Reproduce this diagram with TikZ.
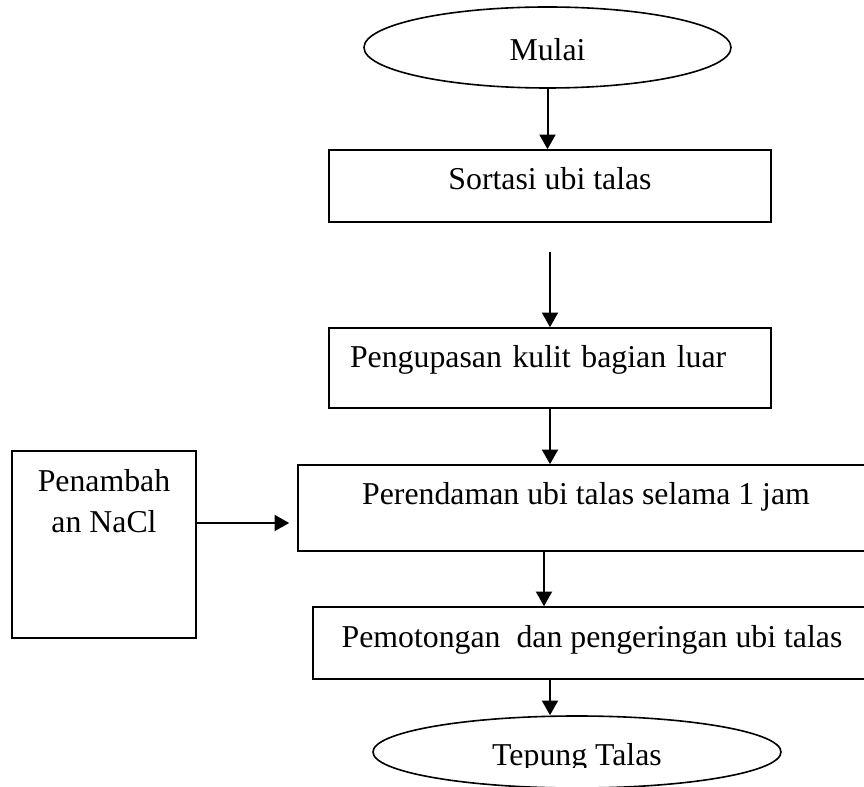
\documentclass[tikz,border=0pt]{standalone}
\usepackage{fontspec}
\setmainfont{Liberation Serif}
\usetikzlibrary{arrows.meta, shapes.geometric}

\begin{document}
\begin{tikzpicture}[x=0.75pt, y=-0.75pt,
  font=\fontsize{23.85pt}{31.5pt}\selectfont,
  terminal/.style={draw, ellipse, line width=1.2pt, inner sep=0pt, text height=20.25pt, text depth=0pt},
  proses/.style={draw, rectangle, line width=1.2pt, inner sep=0pt, text height=30pt, text depth=#1},
  panah/.style={-{Triangle[length=11pt, width=12pt]}, line width=1.5pt}]
\path [use as bounding box, clip] (0, 0) rectangle (864, 787);

\node [terminal, minimum width=275.25pt, minimum height=60.75pt] (mulai) at (547.5, 47.5) {Mulai};
\node [proses=24pt, minimum width=331.5pt] (sortasi) at (550, 186) {Sortasi ubi talas};
\node [proses=30pt, inner xsep=15.75pt, text width=300pt, align=left] (kupas) at (550, 368) {Pengupasan kulit bagian luar};
\node [proses=34.5pt, minimum width=432pt] (rendam) at (586, 508) {Perendaman ubi talas selama 1 jam};
\node [proses=24pt, minimum width=418.5pt] (potong) at (592, 643) {Pemotongan\ \ dan pengeringan ubi talas};
\node [proses=78.75pt, text height=61.5pt, minimum width=138pt, align=center] (nacl) at (104, 544.5) {Penambah\\an NaCl};

\node [terminal, minimum width=306pt, minimum height=54pt] (selesai) at (577, 752) {};
\begin{scope}
\clip (373, 716) rectangle (781, 767);
\node [inner sep=0pt, text height=20.25pt, text depth=0pt] (selesai-teks) at (selesai.center) {Tepung Talas};
\end{scope}

\draw [panah] (mulai.south) -- (mulai.south |- sortasi.north);
\coordinate (a2) at (550, 252);
\draw [panah] (a2) -- (a2 |- kupas.north);
\draw [panah] (kupas.south) -- (kupas.south |- rendam.north);
\coordinate (nacl-out) at ([yshift=16.125pt]nacl.east);
\draw [panah, shorten >=6pt] (nacl-out) -- (nacl-out -| rendam.west);
\coordinate (a5) at ([xshift=-31.5pt]rendam.south);
\draw [panah] (a5) -- (a5 |- potong.north);
\coordinate (a6) at ([xshift=-31.5pt]potong.south);
\draw [panah] (a6) -- (a6 |- selesai.north);
\end{tikzpicture}
\end{document}
